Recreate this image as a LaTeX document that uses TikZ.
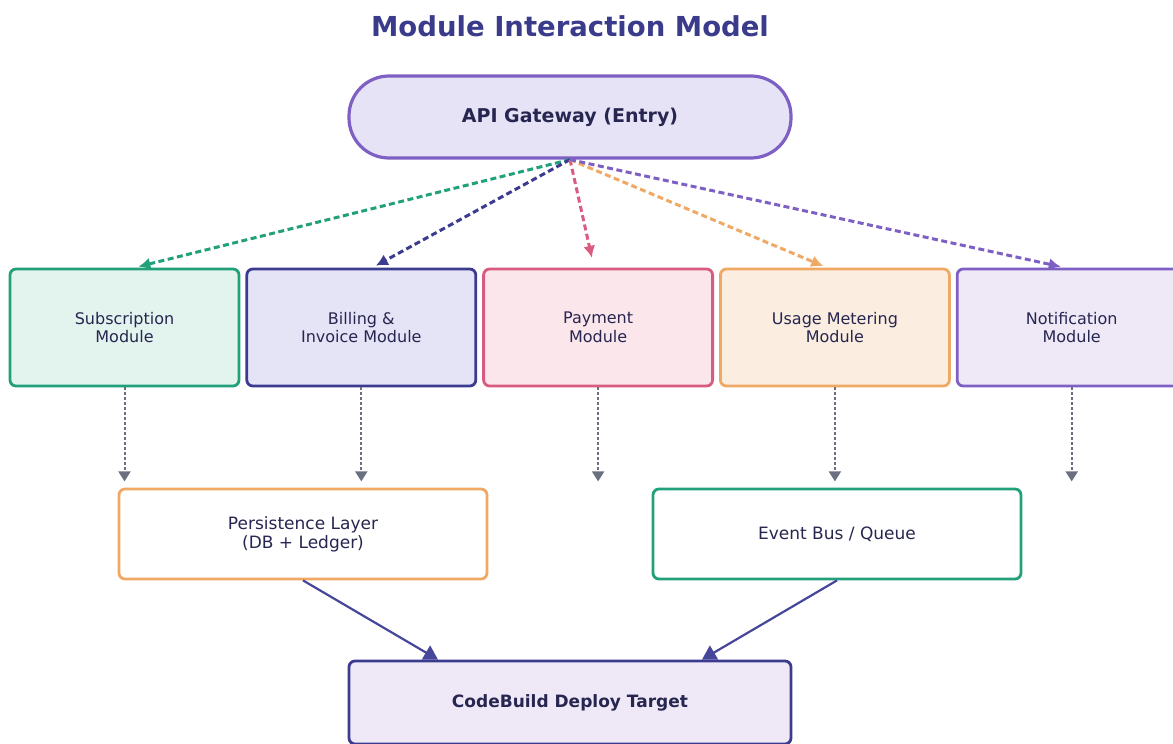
\documentclass[tikz,border=0pt]{standalone}
\usepackage{fontspec}
\setmainfont{DejaVu Sans}
\usepackage{tikz}
\usetikzlibrary{arrows.meta,positioning,calc}
\definecolor{ink}{HTML}{262650}
\definecolor{heading}{HTML}{3B3B8C}
\definecolor{subgreen}{HTML}{22A07A}
\definecolor{subfill}{HTML}{E3F4EE}
\definecolor{billblue}{HTML}{3B3B8F}
\definecolor{billfill}{HTML}{E5E3F6}
\definecolor{paypink}{HTML}{D95C80}
\definecolor{payfill}{HTML}{FAE6EB}
\definecolor{useorange}{HTML}{F0A865}
\definecolor{usefill}{HTML}{FBEDDF}
\definecolor{notepurple}{HTML}{7E5FC4}
\definecolor{notefill}{HTML}{EFE9F7}
\definecolor{gatefill}{HTML}{E6E3F6}
\definecolor{dropgray}{HTML}{6B7080}
\definecolor{feedblue}{HTML}{46469A}
\tikzset{%
	title/.style    = {font=\fontsize{27.5}{30}\selectfont\bfseries, text=heading},
	gateway/.style  = {draw=notepurple, fill=gatefill, line width=3.2pt, rectangle, rounded corners=40pt, minimum width=442pt, minimum height=82pt, text=ink, font=\fontsize{19}{22}\selectfont\bfseries},
	module/.style   = {draw, rectangle, rounded corners=6pt, line width=2.8pt, minimum width=229pt, minimum height=117pt, align=center, text=ink, font=\fontsize{16}{18.5}\selectfont},
	store/.style    = {draw, fill=white, rectangle, rounded corners=6pt, line width=2.8pt, minimum width=368pt, minimum height=90pt, align=center, text=ink, font=\fontsize{17}{19}\selectfont},
	target/.style   = {draw=billblue, fill=notefill, rectangle, rounded corners=6pt, line width=2.8pt, minimum width=442pt, minimum height=83pt, text=ink, font=\fontsize{17}{19}\selectfont\bfseries},
	fanout/.style   = {line width=3pt, dash pattern=on 6pt off 3.5pt, shorten >=4pt, -{Latex[length=12pt,width=12pt]}},
	drop/.style     = {dropgray, line width=2pt, dash pattern=on 3pt off 2pt, -{Triangle[length=10pt,width=12pt]}},
	feed/.style     = {feedblue, line width=2.2pt, -{Triangle[length=14pt,width=16pt]}},
}

\begin{document}
\begin{tikzpicture}[x=1pt,y=-1pt]
	\useasboundingbox (0,0) rectangle (1173,744);
	\node[title] (head) at (570,26) {Module Interaction Model};
	\node[gateway] (gate) at (570,117) {API Gateway (Entry)};
	
	% module row
	\node[module, draw=subgreen, fill=subfill] (sub) at (124.5,327.5) {Subscription\\Module};
	\node[module, draw=billblue, fill=billfill, right=5pt of sub] (bill) {Billing \&\\Invoice Module};
	\node[module, draw=paypink, fill=payfill, right=5pt of bill] (pay) {Payment\\Module};
	\node[module, draw=useorange, fill=usefill, right=5pt of pay] (use) {Usage Metering\\Module};
	\node[module, draw=notepurple, fill=notefill, right=5pt of use] (note) {Notification\\Module};
	
	\node[store, draw=useorange] (persist) at (303,534) {Persistence Layer\\(DB + Ledger)};
	\node[store, draw=subgreen] (bus) at (837,534) {Event Bus / Queue};
	\node[target] (deploy) at (570,702.5) {CodeBuild Deploy Target};
	
	\draw[fanout, subgreen] (gate.south) -- ([xshift=10pt]sub.north);
	\draw[fanout, billblue] (gate.south) -- ([xshift=11pt]bill.north);
	\draw[fanout, paypink, shorten >=10pt] (gate.south) -- ([xshift=-4pt]pay.north);
	\draw[fanout, useorange] (gate.south) -- ([xshift=-8pt]use.north);
	\draw[fanout, notepurple] (gate.south) -- ([xshift=-7pt]note.north);
	
	\foreach \m in {sub,bill,pay,use,note} \draw[drop] (\m.south) -- ++(0,94);
	
	\draw[feed] (persist.south) -- ([xshift=-132pt]deploy.north);
	\draw[feed] (bus.south) -- ([xshift=132pt]deploy.north);
\end{tikzpicture}
\end{document}
